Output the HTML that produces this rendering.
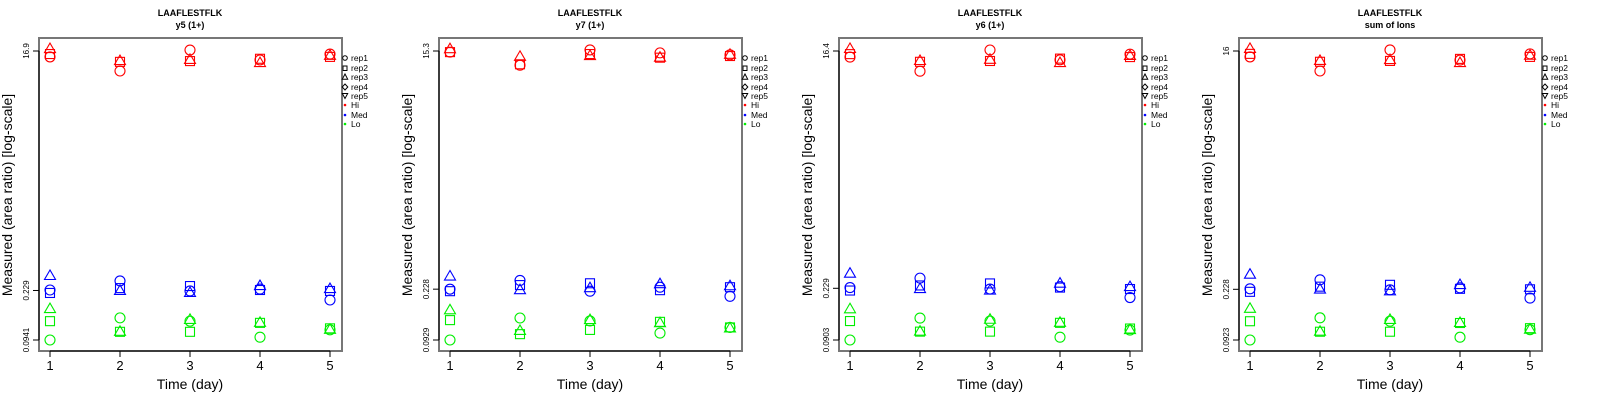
<!DOCTYPE html>
<html><head><meta charset="utf-8">
<style>
html,body{margin:0;padding:0;background:#fff;}
svg{display:block;font-family:"Liberation Sans",sans-serif;}
</style></head>
<body>
<svg id="chart" width="1600" height="400" viewBox="0 0 1600 400" xmlns="http://www.w3.org/2000/svg"></svg>
<script>
const days = [1, 2, 3, 4, 5];
const panelTitles = ["LAAFLESTFLK", "LAAFLESTFLK", "LAAFLESTFLK", "LAAFLESTFLK"];
const panelSubtitles = ["y5 (1+)", "y7 (1+)", "y6 (1+)", "sum of Ions"];
const tickTop = [16.9, 15.3, 16.4, 16];
const tickMid = [0.229, 0.228, 0.229, 0.228];
const tickBot = [0.0941, 0.0929, 0.0903, 0.0923];
const tickTopLabels = ["16.9", "15.3", "16.4", "16"];
const tickMidLabels = ["0.229", "0.228", "0.229", "0.228"];
const tickBotLabels = ["0.0941", "0.0929", "0.0903", "0.0923"];
const legendLabels = ["rep1", "rep2", "rep3", "rep4", "rep5", "Hi", "Med", "Lo"];

// [panel][rep] values per day
const hiRep1 = [[15.2,11.8,17.2,14.4,16.0],[15.0,11.9,15.6,14.8,14.3],[14.7,11.4,16.7,14.0,15.5],[14.4,11.2,16.3,13.6,15.2]];
const hiRep2 = [[16.0,13.9,14.1,14.7,15.2],[15.0,12.1,14.5,13.6,14.0],[15.5,13.5,13.7,14.3,14.7],[15.2,13.2,13.4,13.9,14.4]];
const hiRep3 = [[17.5,14.1,14.4,13.6,15.5],[15.8,13.8,14.0,13.6,14.3],[17.0,13.7,14.0,13.2,15.0],[16.6,13.4,13.6,12.9,14.7]];
const medRep1 = [[0.231,0.272,0.227,0.235,0.193],[0.228,0.266,0.220,0.236,0.201],[0.232,0.275,0.226,0.236,0.194],[0.230,0.270,0.226,0.234,0.195]];
const medRep2 = [[0.219,0.239,0.248,0.231,0.227],[0.220,0.245,0.253,0.224,0.236],[0.220,0.241,0.250,0.232,0.226],[0.218,0.239,0.247,0.230,0.228]];
const medRep3 = [[0.297,0.227,0.219,0.248,0.235],[0.285,0.224,0.232,0.249,0.240],[0.298,0.226,0.220,0.249,0.234],[0.296,0.227,0.220,0.246,0.234]];
const loRep1 = [[0.0941,0.140,0.132,0.099,0.113],[0.0929,0.137,0.130,0.105,0.116],[0.0903,0.134,0.127,0.095,0.108],[0.0923,0.137,0.129,0.097,0.111]];
const loRep2 = [[0.132,0.109,0.109,0.128,0.116],[0.132,0.103,0.111,0.128,0.116],[0.127,0.105,0.105,0.123,0.111],[0.129,0.107,0.107,0.125,0.114]];
const loRep3 = [[0.164,0.109,0.135,0.128,0.113],[0.157,0.109,0.132,0.125,0.114],[0.157,0.105,0.130,0.123,0.108],[0.161,0.107,0.132,0.125,0.111]];

const NS = "http://www.w3.org/2000/svg";
const svg = document.getElementById("chart");
function mk(tag, attrs, parent) {
  const e = document.createElementNS(NS, tag);
  for (const k in attrs) e.setAttribute(k, attrs[k]);
  (parent || svg).appendChild(e);
  return e;
}
const BOX_L = 39, BOX_R = 342, BOX_T = 38, BOX_B = 351, Y_TOP = 51, Y_BOT = 340;

function xScale(d) { return 50 + (d - 1) * 70; }
function yScaleFor(p) {
  const lt = Math.log10(tickTop[p]), lb = Math.log10(tickBot[p]);
  return v => Y_TOP + (lt - Math.log10(v)) / (lt - lb) * (Y_BOT - Y_TOP);
}
function marker(g, shape, x, y, color) {
  let e;
  if (shape === 0) e = mk("circle", {cx: x, cy: y, r: 5, fill: "none", stroke: color, "stroke-width": 1.1}, g);
  else if (shape === 1) e = mk("rect", {x: x - 4.5, y: y - 4.5, width: 9, height: 9, fill: "none", stroke: color, "stroke-width": 1.1}, g);
  else e = mk("polygon", {points: `${x},${y-6} ${x-5.5},${y+3.5} ${x+5.5},${y+3.5}`, fill: "none", stroke: color, "stroke-width": 1.1}, g);
  return e;
}

for (let p = 0; p < 4; p++) {
  const ox = p * 400;
  const g = mk("g", {transform: `translate(${ox},0)`});
  
  
  const ys = yScaleFor(p);

  const t1 = mk("text", {x: 190, y: 16, "text-anchor": "middle", "font-size": 9, "font-weight": "bold"}, g);
  t1.textContent = panelTitles[p];
  
  
  const t2 = mk("text", {x: 190, y: 28, "text-anchor": "middle", "font-size": 9, "font-weight": "bold"}, g);
  t2.textContent = panelSubtitles[p];
  
  

  const box = mk("rect", {x: BOX_L, y: BOX_T, width: BOX_R - BOX_L, height: BOX_B - BOX_T, fill: "none", stroke: "#777", "stroke-width": 2}, g);
  
  

  // y axis
  const ya = mk("g", {}, g);
  
  
  mk("line", {x1: BOX_L, x2: BOX_L, y1: ys(tickTop[p]), y2: ys(tickBot[p]), stroke: "#000", "stroke-width": 1}, ya);
  const yt = [[tickTop[p], tickTopLabels[p]], [tickMid[p], tickMidLabels[p]], [tickBot[p], tickBotLabels[p]]];
  yt.forEach(([v, lab]) => {
    const y = ys(v);
    mk("line", {x1: BOX_L - 6, x2: BOX_L, y1: y, y2: y, stroke: "#000", "stroke-width": 1}, ya);
    const tx = mk("text", {x: 0, y: 0, transform: `translate(29,${y}) rotate(-90)`, "text-anchor": "middle", "font-size": 8}, ya);
    tx.textContent = lab;
    
    
  });
  const yl = mk("text", {x: 0, y: 0, transform: `translate(12,195) rotate(-90)`, "text-anchor": "middle", "font-size": 14}, g);
  yl.textContent = "Measured (area ratio) [log-scale]";
  
  

  // x axis
  const xa = mk("g", {}, g);
  
  
  mk("line", {x1: xScale(days[0]), x2: xScale(days[days.length - 1]), y1: BOX_B, y2: BOX_B, stroke: "#000", "stroke-width": 1}, xa);
  days.forEach(d => {
    const x = xScale(d);
    mk("line", {x1: x, x2: x, y1: BOX_B, y2: BOX_B + 6, stroke: "#000", "stroke-width": 1}, xa);
    const tx = mk("text", {x: x, y: 370, "text-anchor": "middle", "font-size": 13}, xa);
    tx.textContent = String(d);
    
    
  });
  const xl = mk("text", {x: 190, y: 389, "text-anchor": "middle", "font-size": 14}, g);
  xl.textContent = "Time (day)";
  
  

  // points
  const groups = [
    ["hi", "#ff0000", [hiRep1[p], hiRep2[p], hiRep3[p]]],
    ["med", "#0000ff", [medRep1[p], medRep2[p], medRep3[p]]],
    ["lo", "#00ee00", [loRep1[p], loRep2[p], loRep3[p]]]
  ];
  groups.forEach(([nm, col, reps]) => {
    const sg = mk("g", {}, g);
    
    
    reps.forEach((vals, r) => {
      vals.forEach((v, i) => {
        const m = marker(sg, r, xScale(days[i]), ys(v), col);
        
        
      });
    });
  });

  // legend
  const lg = mk("g", {}, g);
  
  
  const rowY = [61, 71, 80, 90, 99, 108, 118, 127];
  legendLabels.forEach((lab, i) => {
    const y = rowY[i], x = 345;
    if (i === 0) mk("circle", {cx: x, cy: y - 3, r: 2.3, fill: "none", stroke: "#000", "stroke-width": 1}, lg);
    else if (i === 1) mk("rect", {x: x - 2, y: y - 5, width: 4, height: 4.5, fill: "none", stroke: "#000", "stroke-width": 1}, lg);
    else if (i === 2) mk("polygon", {points: `${x},${y-6} ${x-2.7},${y-0.8} ${x+2.7},${y-0.8}`, fill: "none", stroke: "#000", "stroke-width": 1}, lg);
    else if (i === 3) mk("polygon", {points: `${x},${y-6} ${x+2.8},${y-3} ${x},${y} ${x-2.8},${y-3}`, fill: "none", stroke: "#000", "stroke-width": 1}, lg);
    else if (i === 4) mk("polygon", {points: `${x},${y-0.5} ${x-2.7},${y-5.5} ${x+2.7},${y-5.5}`, fill: "none", stroke: "#000", "stroke-width": 1}, lg);
    else {
      const c = ["#ff0000", "#0000ff", "#00ee00"][i - 5];
      mk("circle", {cx: x, cy: y - 3, r: 1.3, fill: c}, lg);
    }
    const tx = mk("text", {x: 351, y: y, "font-size": 8.5}, lg);
    tx.textContent = lab;
    
    
  });
}
</script>
</body></html>
